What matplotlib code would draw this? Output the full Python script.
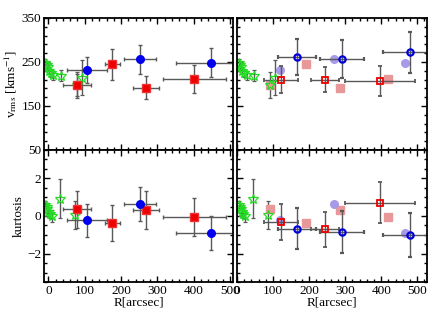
import matplotlib
matplotlib.use("Agg")
import matplotlib.pyplot as plt
from matplotlib.ticker import MultipleLocator, FixedLocator

plt.rcParams['font.family'] = ['Liberation Serif', 'DejaVu Serif']
plt.rcParams['mathtext.fontset'] = 'stix'
plt.rcParams['font.size'] = 9.5

# left panels: filled markers
r_sq = [79, 176, 269, 402]
r_sq_err = [38, 20, 35, 86]
v_sq = [198, 245, 192, 211]
v_sq_err = [25, 35, 27, 32]
k_sq = [0.35, -0.37, 0.32, -0.07]
k_sq_err = [1.0, 0.97, 1.0, 1.0]

r_ci = [106, 253, 448]
r_ci_err = [56, 44, 98]
v_ci = [232, 256, 248]
v_ci_err = [30, 33, 33]
k_ci = [-0.23, 0.64, -0.9]
k_ci_err = [0.87, 0.9, 0.9]

# green stars (inner data)
r_st_v = [-8, -5, -2, 2, 6, 14, 34, 78, 92]
v_st = [248, 243, 238, 230, 224, 220, 219, 198, 214]
v_st_err = [8, 8, 8, 8, 8, 10, 12, 30, 40]
r_st_k = [-8, -5, -3, 0, 4, 9, 32, 73]
k_st = [0.6, 0.5, 0.35, 0.2, 0.1, 0.0, 0.92, 0.05]
k_st_err = [0.2, 0.2, 0.2, 0.2, 0.2, 0.3, 1.05, 0.75]

# right panels: open markers
r_osq = [122, 243, 397]
r_osq_err = [46, 39, 96]
v_osq = [210, 210, 206]
v_osq_err = [30, 28, 34]
k_osq = [-0.3, -0.7, 0.71]
k_osq_err = [0.95, 0.93, 1.07]

r_oci = [166, 291, 479]
r_oci_err = [53, 60, 75]
v_oci = [261, 257, 272]
v_oci_err = [41, 43, 47]
k_oci = [-0.67, -0.85, -1.02]
k_oci_err = [1.07, 1.1, 1.17]

# faded copies of the left data as placed in the right panels
r_sq_faded = [92, 191, 285, 418]
r_ci_faded = [120, 268, 465]
r_st_v_right = [5, 8, 11, 15, 19, 27, 47, 91, 105]
r_st_k_right = [5, 8, 10, 13, 17, 22, 45, 86]

v_ticks = [50, 150, 250, 350]

fig = plt.figure(figsize=(4.4, 3.2), dpi=100)
ax_tl = fig.add_axes([0.1, 0.53125, 0.4295, 0.4125])
ax_tr = fig.add_axes([0.5386, 0.53125, 0.4318, 0.4125])
ax_bl = fig.add_axes([0.1, 0.11875, 0.4295, 0.4125])
ax_br = fig.add_axes([0.5386, 0.11875, 0.4318, 0.4125])

ecol = '0.35'
ebar = dict(ls='none', ecolor=ecol, elinewidth=1, capsize=1.5, capthick=1)


def stars(ax, r, y, yerr):
    ax.errorbar(r, y, yerr=yerr, fmt='*', ms=7, mfc='none', mec='#22dd22', mew=0.9, **ebar)


def filled(ax, y_sq, y_sq_err, y_ci, y_ci_err):
    ax.errorbar(r_sq, y_sq, xerr=r_sq_err, yerr=y_sq_err, fmt='s', ms=5.5, mfc='#ee0000',
                mec='#ee3333', **ebar)
    ax.errorbar(r_ci, y_ci, xerr=r_ci_err, yerr=y_ci_err, fmt='o', ms=5.5, mfc='#0000ee',
                mec='#0000ee', **ebar)


def opened(ax, y_sq, y_sq_err, y_ci, y_ci_err, y_sq_f, y_ci_f):
    ax.plot(r_sq_faded, y_sq_f, 's', ms=5.5, color='#e89898', ls='none')
    ax.plot(r_ci_faded, y_ci_f, 'o', ms=5.5, color='#a89ae8', ls='none')
    ax.errorbar(r_osq, y_sq, xerr=r_osq_err, yerr=y_sq_err, fmt='s', ms=4.5, mfc='none',
                mec='#ee0000', mew=1.3, **ebar)
    ax.errorbar(r_oci, y_ci, xerr=r_oci_err, yerr=y_ci_err, fmt='o', ms=4.5, mfc='none',
                mec='#0000dd', mew=1.6, **ebar)


stars(ax_tl, r_st_v, v_st, v_st_err)
filled(ax_tl, v_sq, v_sq_err, v_ci, v_ci_err)
stars(ax_bl, r_st_k, k_st, k_st_err)
filled(ax_bl, k_sq, k_sq_err, k_ci, k_ci_err)

stars(ax_tr, r_st_v_right, v_st, v_st_err)
opened(ax_tr, v_osq, v_osq_err, v_oci, v_oci_err, v_sq, v_ci)
stars(ax_br, r_st_k_right, k_st, k_st_err)
opened(ax_br, k_osq, k_osq_err, k_oci, k_oci_err, k_sq, k_ci)

for ax in [ax_tl, ax_bl]:
    ax.set_xlim(-12, 508)
for ax in [ax_tr, ax_br]:
    ax.set_xlim(0, 527)
for ax in [ax_tl, ax_tr]:
    ax.set_ylim(50, 350)
    ax.yaxis.set_major_locator(FixedLocator(v_ticks))
    ax.yaxis.set_minor_locator(FixedLocator(range(50, 351, 20)))
    ax.tick_params(labelbottom=False)
for ax in [ax_bl, ax_br]:
    ax.set_ylim(-3.5, 3.5)
    ax.yaxis.set_major_locator(MultipleLocator(2))
    ax.yaxis.set_minor_locator(MultipleLocator(0.5))
    ax.set_xlabel('R[arcsec]', labelpad=0)
for ax in [ax_tr, ax_br]:
    ax.tick_params(labelleft=False)

for ax in [ax_tl, ax_tr, ax_bl, ax_br]:
    ax.xaxis.set_major_locator(MultipleLocator(100))
    ax.xaxis.set_minor_locator(MultipleLocator(20))
    ax.tick_params(which='both', direction='in', top=True, right=True, width=1)
    ax.tick_params(which='major', length=4, pad=2)
    ax.tick_params(which='minor', length=2)
    for s in ax.spines.values():
        s.set_linewidth(1.3)

ax_tl.set_ylabel(r'v$_{\rm rms}$ [kms$^{-1}$]', labelpad=2)
ax_bl.set_ylabel('kurtosis', labelpad=2)

fig.savefig('out.png', dpi=100)
